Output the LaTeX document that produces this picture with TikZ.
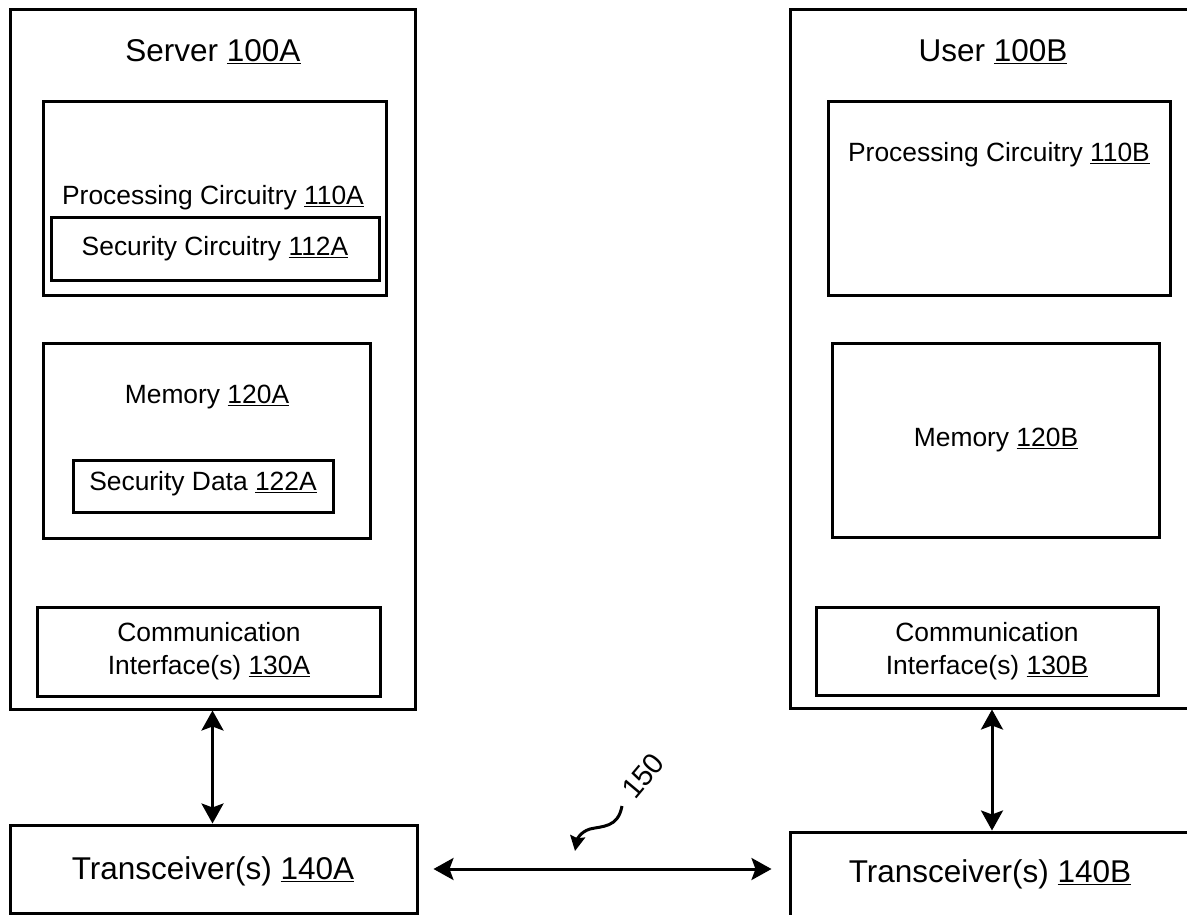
\documentclass[tikz,border=0pt]{standalone}
\usepackage{fontspec}
\setmainfont{Liberation Sans}
\usetikzlibrary{arrows.meta,calc}
\begin{document}
\begin{tikzpicture}[x=1pt,y=-1pt,
  box/.style={draw,line width=3pt,inner sep=0pt},
  big/.style={font=\fontsize{31.5}{36}\selectfont,inner sep=0pt},
  small/.style={font=\fontsize{26.4}{33}\selectfont,inner sep=0pt,align=center},
  dbl/.style={line width=3pt,{Stealth[length=20pt,width=22pt,inset=4pt]}-{Stealth[length=20pt,width=22pt,inset=4pt]}}]
\clip (0,0) rectangle (1187,915);
% Server
\node[box,minimum width=405pt,minimum height=699pt] (server) at (212.5,359.5) {};
\node[big] (servert) at (213,52) {Server \underline{100A}};
\node[box,minimum width=343pt,minimum height=193pt] (p110a) at (214.5,198.5) {};
\node[small] (p110at) at (213,198) {Processing Circuitry \underline{110A}};
\node[box,minimum width=328pt,minimum height=62pt] (s112a) at (215,249) {};
\node[small] (s112at) at (215,249) {Security Circuitry \underline{112A}};
\node[box,minimum width=327pt,minimum height=195pt] (m120a) at (206.5,440.5) {};
\node[small] (m120at) at (207,397) {Memory \underline{120A}};
\node[box,minimum width=260pt,minimum height=52pt] (sd122a) at (203,486) {};
\node[small] (sd122at) at (203,484) {Security Data \underline{122A}};
\node[box,minimum width=343pt,minimum height=89pt] (c130a) at (208.5,651.5) {};
\node[small] (c130at) at (209,651) {Communication\\Interface(s) \underline{130A}};
\node[box,minimum width=407pt,minimum height=88pt] (t140a) at (213.5,869) {};
\node[big] (t140at) at (213,871) {Transceiver(s) \underline{140A}};
% User
\node[box,minimum width=404pt,minimum height=698pt] (user) at (992,359) {};
\node[big] (usert) at (993,52) {User \underline{100B}};
\node[box,minimum width=342pt,minimum height=193pt] (p110b) at (999,198.5) {};
\node[small] (p110bt) at (999,155) {Processing Circuitry \underline{110B}};
\node[box,minimum width=327pt,minimum height=194pt] (m120b) at (995.5,440) {};
\node[small] (m120bt) at (996,440) {Memory \underline{120B}};
\node[box,minimum width=342pt,minimum height=88pt] (c130b) at (987,651) {};
\node[small] (c130bt) at (987,651) {Communication\\Interface(s) \underline{130B}};
\node[box,minimum width=410pt,minimum height=98pt] (t140b) at (995,881) {};
\node[big] (t140bt) at (990,874) {Transceiver(s) \underline{140B}};
% connectors
\draw[dbl] (server.south) -- (server.south |- t140a.north);
\draw[dbl] (user.south) -- (user.south |- t140b.north);
\draw[dbl,shorten <=15pt,shorten >=17pt] (t140a.east) -- (t140a.east -| t140b.west);
% 150
\node[font=\fontsize{29}{34}\selectfont,inner sep=0pt,rotate=50] (l150) at (643,776) {150};
\coordinate (sq) at (622,806);
\draw[line width=3pt,-{Stealth[length=15pt,width=15pt,inset=2pt]}] (sq) .. controls (618,828) and (602,826) .. (590,829) .. controls (580,832) and (577,840) .. (575,851);
\end{tikzpicture}
\end{document}
